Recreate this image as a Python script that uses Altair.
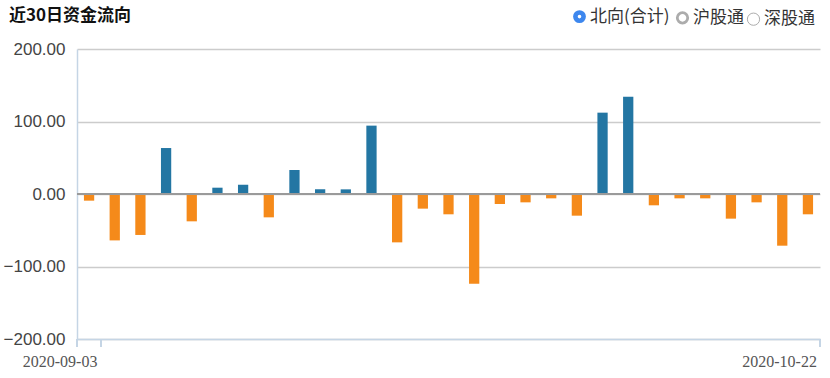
import altair as alt
import pandas as pd

dates = ["2020-09-03", "2020-09-04", "2020-09-07", "2020-09-08", "2020-09-09",
         "2020-09-10", "2020-09-11", "2020-09-14", "2020-09-15", "2020-09-16",
         "2020-09-17", "2020-09-18", "2020-09-21", "2020-09-22", "2020-09-23",
         "2020-09-24", "2020-09-25", "2020-09-28", "2020-09-29", "2020-09-30",
         "2020-10-09", "2020-10-12", "2020-10-14", "2020-10-15", "2020-10-16",
         "2020-10-19", "2020-10-20", "2020-10-21", "2020-10-22"]
flows = [-9.2, -64.0, -56.5, 63.4, -37.7, 8.7, 12.9, -32.2, 33.1, 6.4,
         6.4, 94.3, -66.7, -20.2, -28.0, -123.7, -13.8, -11.5, -6.0, -29.9,
         112.2, 134.3, -15.6, -6.0, -6.0, -34.0, -11.5, -71.3, -28.0]
legend_items = ["北向(合计)", "沪股通", "深股通"]
legend_fills = ["#ffffff", "#ffffff", "#ffffff"]
legend_strokes = ["#3d87ee", "#acacac", "#acacac"]
title_text = ["近30日资金流向"]

df = pd.DataFrame({"date": dates, "flow": flows})
df["sign"] = ["in" if v >= 0 else "out" for v in flows]
leg_df = pd.DataFrame({"item": legend_items})
title_df = pd.DataFrame({"t": title_text})

W, H = 743, 290
AX = "#c5d5e5"

xscale = alt.Scale(paddingInner=0.6, paddingOuter=0.27)
xenc = alt.X("date:O", scale=xscale, sort=dates,
             axis=alt.Axis(labels=False, ticks=False, title=None, domainColor=AX,
                           domainWidth=1.5, grid=False))

bars = alt.Chart(df).mark_bar().encode(
    x=xenc,
    y=alt.Y("flow:Q", scale=alt.Scale(domain=[-200, 200], nice=False),
            axis=alt.Axis(values=[-200, -100, 0, 100, 200], format=".2f", title=None,
                          ticks=False, labelFont="Liberation Sans", labelFontSize=17,
                          labelColor="#444444", labelPadding=12, domainColor=AX,
                          domainWidth=1.5, gridColor="#cccccc", gridWidth=1.5)),
    color=alt.Color("sign:N", scale=alt.Scale(domain=["in", "out"],
                                              range=["#2376a3", "#f58a1a"]), legend=None),
)

zero = alt.Chart(df).mark_rule(color="#9a9a9a", strokeWidth=2).encode(y=alt.datum(0))

first_lbl = alt.Chart(df).transform_filter(alt.datum.date == dates[0]).mark_text(
    font="Liberation Serif", fontSize=16, color="#555555", align="center",
    baseline="middle", dx=-29).encode(x=alt.X("date:O", sort=dates), y=alt.value(H + 23), text="date:N")
last_lbl = alt.Chart(df).transform_filter(alt.datum.date == dates[-1]).mark_text(
    font="Liberation Serif", fontSize=16, color="#555555", align="right",
    baseline="middle", dx=9).encode(x=alt.X("date:O", sort=dates), y=alt.value(H + 23), text="date:N")

tick1 = alt.Chart(df).mark_rule(color=AX, strokeWidth=1.5).encode(
    x=alt.value(24), y=alt.value(H), y2=alt.value(H + 8))
tick2 = alt.Chart(df).mark_rule(color=AX, strokeWidth=1.5).encode(
    x=alt.value(W), y=alt.value(H), y2=alt.value(H + 8))
tick0 = alt.Chart(df).mark_rule(color=AX, strokeWidth=1.5).encode(
    x=alt.value(0), y=alt.value(H), y2=alt.value(H + 8))

leg_legend = alt.Legend(orient="none", direction="horizontal", title=None,
                        legendX=494, legendY=-41, symbolType="circle",
                        symbolOpacity=1, labelFont="Noto Sans CJK SC", labelFontSize=17,
                        labelColor="#333333", labelOffset=2, columnPadding=1,
                        padding=0)
leg = alt.Chart(leg_df).mark_point(opacity=0).encode(
    fill=alt.Fill("item:N", scale=alt.Scale(domain=legend_items, range=legend_fills),
                  legend=leg_legend),
    stroke=alt.Stroke("item:N", scale=alt.Scale(domain=legend_items, range=legend_strokes),
                      legend=leg_legend),
    strokeWidth=alt.StrokeWidth("item:N", scale=alt.Scale(domain=legend_items, range=[4.6, 1, 1]),
                                legend=leg_legend),
    size=alt.Size("item:N", scale=alt.Scale(domain=legend_items, range=[68, 150, 150]),
                  legend=leg_legend),
)

title = alt.Chart(title_df).mark_text(
    font="Noto Sans CJK SC", fontSize=17, fontWeight="bold", color="#111111",
    align="left", baseline="middle").encode(
    x=alt.value(-68), y=alt.value(-33), text="t:N")

chart = alt.layer(bars, zero, tick0, tick1, tick2, first_lbl, last_lbl, leg, title).properties(
    width=W, height=H,
    autosize=alt.AutoSizeParams(type="none"),
    padding={"left": 77, "top": 49, "right": 10, "bottom": 39},
).configure_view(stroke=None).configure_axis(gridDash=[])

chart.save("out.html", embed_options={"renderer": "svg", "actions": False})
